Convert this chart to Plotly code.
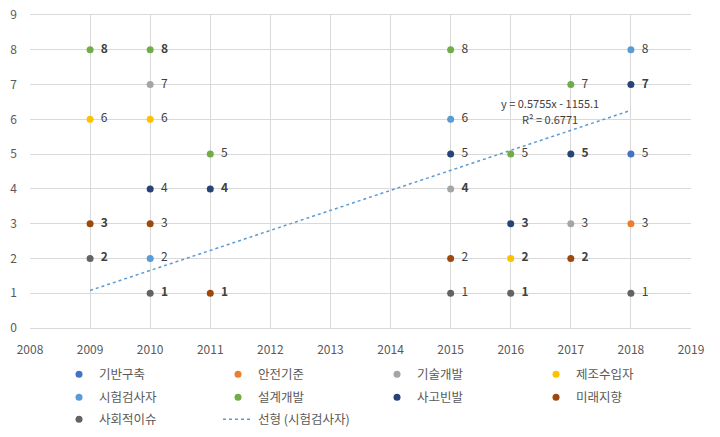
import plotly.graph_objects as go

# ---- data ----
series_names = ["기반구축", "안전기준", "기술개발", "제조수입자", "시험검사자",
                "설계개발", "사고빈발", "미래지향", "사회적이슈"]
x_기반구축 = [2018]
y_기반구축 = [5]
x_안전기준 = [2018]
y_안전기준 = [3]
x_기술개발 = [2010, 2015, 2017]
y_기술개발 = [7, 4, 3]
x_제조수입자 = [2009, 2010, 2016]
y_제조수입자 = [6, 6, 2]
x_시험검사자 = [2010, 2015, 2018]
y_시험검사자 = [2, 6, 8]
x_설계개발 = [2009, 2010, 2011, 2015, 2016, 2017]
y_설계개발 = [8, 8, 5, 8, 5, 7]
x_사고빈발 = [2010, 2011, 2015, 2016, 2017, 2018]
y_사고빈발 = [4, 4, 5, 3, 5, 7]
x_미래지향 = [2009, 2010, 2011, 2015, 2017]
y_미래지향 = [3, 3, 1, 2, 2]
x_사회적이슈 = [2009, 2010, 2015, 2016, 2018]
y_사회적이슈 = [2, 1, 1, 1, 1]

trend_name = "선형 (시험검사자)"
trend_slope = 0.5755
trend_intercept = -1155.1
trend_r2 = 0.6771
trend_x = [2009, 2018]

x_ticks = list(range(2008, 2020))
y_ticks = list(range(0, 10))

# labels that render heavier in the reference (overlapping labels)
bold_labels = {(2009, 8), (2010, 8), (2009, 3), (2009, 2), (2010, 1), (2011, 4), (2011, 1),
               (2015, 4), (2016, 3), (2016, 2), (2016, 1), (2017, 5), (2017, 2), (2018, 7)}

xs = [x_기반구축, x_안전기준, x_기술개발, x_제조수입자, x_시험검사자,
      x_설계개발, x_사고빈발, x_미래지향, x_사회적이슈]
ys = [y_기반구축, y_안전기준, y_기술개발, y_제조수입자, y_시험검사자,
      y_설계개발, y_사고빈발, y_미래지향, y_사회적이슈]
colors = ["#4472C4", "#ED7D31", "#A5A5A5", "#FFC000", "#5B9BD5",
          "#70AD47", "#264478", "#9E480E", "#636363"]
legend_rows = ["legend", "legend", "legend", "legend",
               "legend2", "legend2", "legend2", "legend2", "legend3"]

FONT = "Noto Sans CJK KR, Malgun Gothic, sans-serif"
PAD = "\u00a0\u00a0"

fig = go.Figure()
for name, x, y, c, lg in zip(series_names, xs, ys, colors, legend_rows):
    labels = [PAD + (f"<b>{v}</b>" if (xx, v) in bold_labels else str(v)) for xx, v in zip(x, y)]
    fig.add_trace(go.Scatter(
        x=x, y=y, mode="markers+text", name=name, legend=lg,
        marker=dict(color=c, size=7),
        text=labels, textposition="middle right",
        textfont=dict(size=12, color="#404040", family=FONT),
        cliponaxis=False,
    ))

trend_y = [trend_slope * v + trend_intercept for v in trend_x]
fig.add_trace(go.Scatter(
    x=trend_x, y=trend_y, mode="lines", name=trend_name, legend="legend3",
    line=dict(color="#5B9BD5", width=1.5, dash="dot"),
))

fig.add_annotation(
    x=2016.66, y=6.47, xref="x", yref="y",
    text=f"y = {trend_slope}x - {abs(trend_intercept)}",
    showarrow=False, font=dict(size=11, color="#404040", family=FONT),
)
fig.add_annotation(
    x=2016.66, y=6.01, xref="x", yref="y",
    text=f"R² = {trend_r2}",
    showarrow=False, font=dict(size=11, color="#404040", family=FONT),
)

legend_common = dict(
    orientation="h", x=0.0439, xanchor="left", yanchor="top",
    entrywidth=114, entrywidthmode="pixels",
    font=dict(size=12.5, color="#595959", family=FONT),
    itemclick=False, bgcolor="rgba(0,0,0,0)",
)

fig.update_layout(
    width=720, height=437,
    margin=dict(l=30, r=29, t=15, b=109, autoexpand=False),
    paper_bgcolor="white", plot_bgcolor="white",
    font=dict(family=FONT, color="#595959"),
    showlegend=True,
    legend=dict(y=-0.101, **legend_common),
    legend2=dict(y=-0.1744, **legend_common),
    legend3=dict(y=-0.2447, **legend_common),
)
fig.update_xaxes(
    range=[2008, 2019], tickvals=x_ticks, ticktext=[str(t) for t in x_ticks],
    showgrid=True, gridcolor="#D9D9D9", gridwidth=1,
    showline=True, linecolor="#D9D9D9", mirror=True, zeroline=False,
    tickfont=dict(size=12, color="#595959"), ticks="",
    automargin=False, ticklabelstandoff=11, ticklabeloverflow="allow",
)
fig.update_yaxes(
    range=[0, 9], tickvals=y_ticks,
    showgrid=True, gridcolor="#D9D9D9", gridwidth=1,
    showline=False, zeroline=False,
    tickfont=dict(size=12, color="#595959"), ticks="",
    automargin=False, ticklabelstandoff=12, ticklabeloverflow="allow",
)

fig.write_html("out.html", config={"displayModeBar": False},
               post_script="document.body.style.margin='0';")
